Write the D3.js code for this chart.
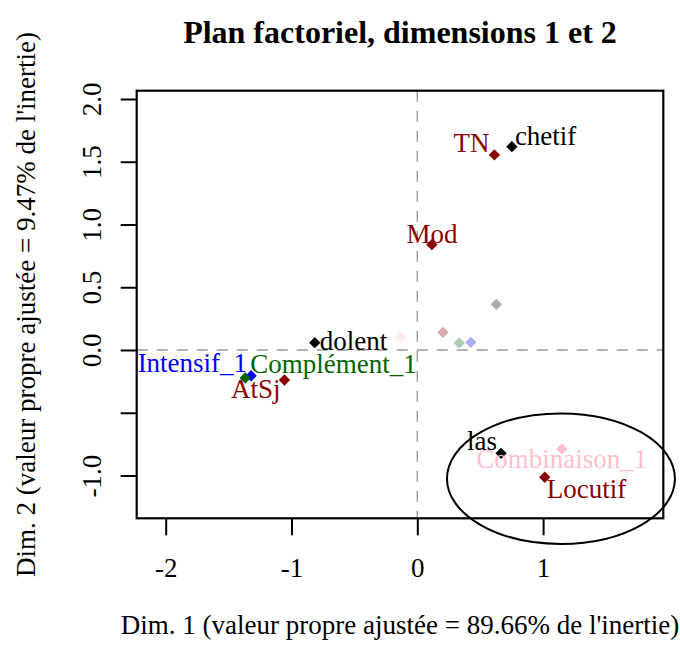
<!DOCTYPE html>
<html>
<head>
<meta charset="utf-8">
<script src="https://cdn.jsdelivr.net/npm/d3@7"></script>
<style>
  body { margin: 0; background: #fff; }
  svg text { font-family: "Liberation Serif", "Times New Roman", serif; }
</style>
</head>
<body>
<svg id="chart" width="680" height="646"></svg>
<script>
// modalities shown with labels
const pointNames = ["TN", "chetif", "Mod", "dolent", "Intensif_1", "Complément_1", "AtSj", "las", "Combinaison_1", "Locutif"];
const dim1 = [0.613, 0.752, 0.116, -0.815, -1.321, -1.368, -1.056, 0.666, 1.149, 1.013];
const dim2 = [1.554, 1.620, 0.839, 0.058, -0.205, -0.223, -0.239, -0.823, -0.789, -1.014];
const pointGroups = ["Saisie", "Adjectif", "Saisie", "Adjectif", "Intensif", "Complément", "Saisie", "Adjectif", "Combinaison", "Saisie"];

// faded modalities, no labels
const fadedDim1 = [-0.134, 0.204, 0.334, 0.425, 0.628];
const fadedDim2 = [0.101, 0.141, 0.056, 0.061, 0.364];
const fadedGroups = ["Combinaison", "Saisie", "Complément", "Intensif", "Adjectif"];

const groups = ["Saisie", "Adjectif", "Intensif", "Complément", "Combinaison"];
const groupColors = ["#8B0000", "#000000", "#0000FF", "#006400", "#FFC0CB"];

const xTicks = [-2, -1, 0, 1];
const xTickLabels = ["-2", "-1", "0", "1"];
const yTicks = [-1, -0.5, 0, 0.5, 1, 1.5, 2];
const yTickLabels = ["-1.0", "", "0.0", "0.5", "1.0", "1.5", "2.0"];

const xLim = [-2.2305, 1.9555];
const yLim = [-1.341, 2.066];

// circled cluster (centre and radii in plane units)
const ellipseCenter = [1.142, -1.025];
const ellipseRadii = [0.906, 0.52];

const title = "Plan factoriel, dimensions 1 et 2";
const xTitle = "Dim. 1 (valeur propre ajustée = 89.66% de l'inertie)";
const yTitle = "Dim. 2 (valeur propre ajustée = 9.47% de l'inertie)";

// label placement: anchor, dx, dy (to baseline)
const labelPos = {
  "TN": ["end", -5, -3],
  "chetif": ["start", 3, -2],
  "Mod": ["middle", 0, -2],
  "dolent": ["start", 5, 7],
  "Intensif_1": ["end", -4, -4],
  "Complément_1": ["start", 5, -5],
  "AtSj": ["end", -4, 18],
  "las": ["end", -4, -3],
  "Combinaison_1": ["middle", 0, 19],
  "Locutif": ["start", 2, 21]
};

const fs = 27;
const svg = d3.select("#chart");
const mLeft = 136.7, mRight = 663.3, mTop = 90.7, mBottom = 518.3;

const x = d3.scaleLinear().domain(xLim).range([mLeft, mRight]);
const y = d3.scaleLinear().domain(yLim).range([mBottom, mTop]);
const color = d3.scaleOrdinal().domain(groups).range(groupColors);

// zero lines
svg.append("line")
    .attr("x1", x(0)).attr("x2", x(0)).attr("y1", mTop).attr("y2", mBottom)
    .attr("stroke", "#9a9a9a").attr("stroke-width", 1.4).attr("stroke-dasharray", "11,9");
svg.append("line")
    .attr("x1", mLeft).attr("x2", mRight).attr("y1", y(0)).attr("y2", y(0))
    .attr("stroke", "#9a9a9a").attr("stroke-width", 1.4).attr("stroke-dasharray", "11,9");

// axes
const gx = svg.append("g")
    .attr("transform", `translate(0,${mBottom})`)
    .call(d3.axisBottom(x).tickValues(xTicks).tickSize(17).tickFormat((d, i) => xTickLabels[i]));
gx.select(".domain").remove();
gx.selectAll("line").attr("stroke", "#000").attr("stroke-width", 2);
gx.selectAll("text")
    .attr("y", 58.7).attr("dy", 0)
    .attr("fill", "#000").style("font-size", fs + "px")
    .style("font-family", "Liberation Serif, serif");

const gy = svg.append("g")
    .attr("transform", `translate(${mLeft},0)`)
    .call(d3.axisLeft(y).tickValues(yTicks).tickSize(16).tickFormat((d, i) => yTickLabels[i]));
gy.select(".domain").remove();
gy.selectAll("line").attr("stroke", "#000").attr("stroke-width", 2);
gy.selectAll("text")
    .attr("x", 0).attr("dy", 0)
    .attr("text-anchor", "middle")
    .attr("transform", "translate(-36,0) rotate(-90)")
    .attr("fill", "#000").style("font-size", fs + "px")
    .style("font-family", "Liberation Serif, serif");

// box
svg.append("rect")
    .attr("x", mLeft).attr("y", mTop)
    .attr("width", mRight - mLeft).attr("height", mBottom - mTop)
    .attr("fill", "none").attr("stroke", "#000").attr("stroke-width", 2.2);

const diamond = d3.symbol(d3.symbolSquare, 64);

// faded points
svg.append("g").selectAll("path")
  .data(fadedDim1.map((d, i) => ({x: d, y: fadedDim2[i], g: fadedGroups[i]})))
  .join("path")
    .attr("d", diamond)
    .attr("transform", d => `translate(${x(d.x)},${y(d.y)}) rotate(45)`)
    .attr("fill", d => color(d.g))
    .attr("fill-opacity", 0.33);

const pts = pointNames.map((n, i) => ({name: n, x: dim1[i], y: dim2[i], g: pointGroups[i]}));

svg.append("g").selectAll("path")
  .data(pts)
  .join("path")
    .attr("d", diamond)
    .attr("transform", d => `translate(${x(d.x)},${y(d.y)}) rotate(45)`)
    .attr("fill", d => color(d.g));

svg.append("g").selectAll("text")
  .data(pts)
  .join("text")
    .attr("x", d => x(d.x) + labelPos[d.name][1])
    .attr("y", d => y(d.y) + labelPos[d.name][2])
    .attr("text-anchor", d => labelPos[d.name][0])
    .attr("fill", d => color(d.g))
    .style("font-size", fs + "px")
    .text(d => d.name);

// ellipse around the cluster
svg.append("ellipse")
    .attr("cx", x(ellipseCenter[0]))
    .attr("cy", y(ellipseCenter[1]))
    .attr("rx", x(ellipseCenter[0] + ellipseRadii[0]) - x(ellipseCenter[0]))
    .attr("ry", y(ellipseCenter[1]) - y(ellipseCenter[1] + ellipseRadii[1]))
    .attr("fill", "none").attr("stroke", "#000").attr("stroke-width", 2);

// titles
svg.append("text")
    .attr("x", (mLeft + mRight) / 2).attr("y", 43)
    .attr("text-anchor", "middle")
    .style("font-size", "32px").style("font-weight", "bold")
    .text(title);
svg.append("text")
    .attr("x", (mLeft + mRight) / 2).attr("y", 634)
    .attr("text-anchor", "middle")
    .style("font-size", fs + "px")
    .text(xTitle);
svg.append("text")
    .attr("transform", `translate(35,${(mTop + mBottom) / 2}) rotate(-90)`)
    .attr("text-anchor", "middle")
    .style("font-size", fs + "px")
    .text(yTitle);
</script>
</body>
</html>
